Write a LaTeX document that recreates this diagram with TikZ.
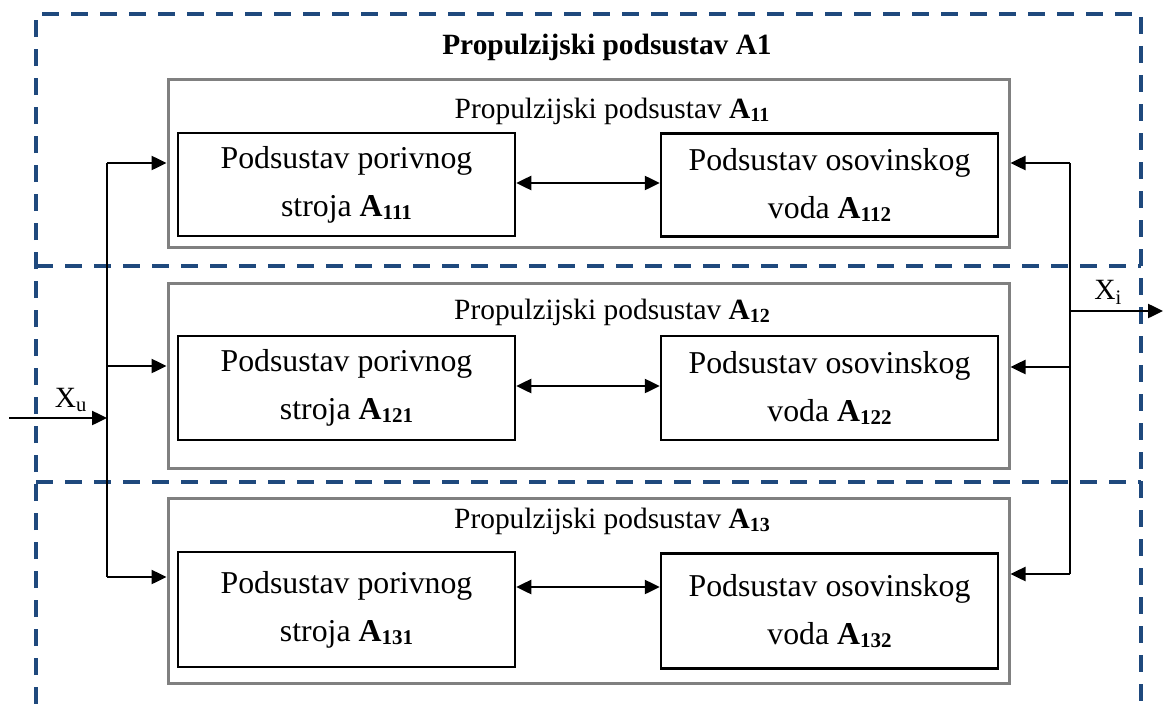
\documentclass[tikz,border=0pt]{standalone}
\usepackage{fontspec}
\setmainfont{Liberation Serif}
\usetikzlibrary{arrows.meta}
\definecolor{dblue}{RGB}{31,73,125}
\definecolor{gbox}{RGB}{128,128,128}
\newcommand\Ab[2]{\textbf{A\raisebox{-0.1em}{\fontsize{#2}{#2}\selectfont #1}}}
\begin{document}
\begin{tikzpicture}[x=1pt,y=-1pt,
  inbox/.style={draw=black,line width=2.5pt,minimum width=337pt,align=center,
    font=\fontsize{31.8}{48}\selectfont,inner sep=0pt},
  outbox/.style={draw=gbox,line width=3pt,minimum width=841pt,inner sep=0pt},
  frame/.style={draw=dblue,line width=4pt,dash pattern=on 17pt off 12pt},
  arr/.style={line width=2.5pt,-{Triangle[length=15pt,width=14pt]}},
  darr/.style={line width=2.5pt,{Triangle[length=15pt,width=14pt]}-{Triangle[length=15pt,width=14pt]}},
  bus/.style={line width=2.5pt},
  title/.style={font=\fontsize{29.4}{29.4}\selectfont,inner sep=0pt},
]
\useasboundingbox (0,0) rectangle (1163,704);

% outer dashed frame
\draw[frame] (36,704) -- (36,14) -- (1141,14) -- (1141,704);
\draw[frame] (36,266) -- (1141,266);
\draw[frame] (36,482) -- (1141,482);

\node[title,font=\fontsize{29.4}{29.4}\selectfont\bfseries] (main) at (607,47) {Propulzijski podsustav A1};

% gray boxes
\node[outbox,minimum height=168pt] (g1) at (588.5,163) {};
\node[outbox,minimum height=185pt] (g2) at (588.5,375.5) {};
\node[outbox,minimum height=185pt] (g3) at (588.5,590.5) {};

\node[title] (t1) at (612,111) {Propulzijski podsustav \Ab{11}{20}};
\node[title] (t2) at (612,312) {Propulzijski podsustav \Ab{12}{20}};
\node[title] (t3) at (612,521) {Propulzijski podsustav \Ab{13}{20}};

% inner boxes
\node[inbox,minimum height=103pt] (l1) at (346.5,184.5) {Podsustav porivnog\\stroja \Ab{111}{21}};
\node[inbox,minimum height=103pt] (r1) at (829.5,185) {Podsustav osovinskog\\voda \Ab{112}{21}};
\node[inbox,minimum height=104pt] (l2) at (346.5,388) {Podsustav porivnog\\stroja \Ab{121}{21}};
\node[inbox,minimum height=104pt] (r2) at (829.5,388) {Podsustav osovinskog\\voda \Ab{122}{21}};
\node[inbox,minimum height=115pt] (l3) at (346.5,609.5) {Podsustav porivnog\\stroja \Ab{131}{21}};
\node[inbox,minimum height=115pt] (r3) at (829.5,611) {Podsustav osovinskog\\voda \Ab{132}{21}};

% double arrows
\coordinate (d1) at (515,183);
\coordinate (d2) at (515,386);
\coordinate (d3) at (515,587);
\draw[darr] (d1 -| l1.east) -- (d1 -| r1.west);
\draw[darr] (d2 -| l2.east) -- (d2 -| r2.west);
\draw[darr] (d3 -| l3.east) -- (d3 -| r3.west);

% left bus
\coordinate (bl1) at (107,163);
\coordinate (bl2) at (107,366);
\coordinate (bl3) at (107,577);
\coordinate (xu) at (107,418);
\coordinate (xus) at (9,418);
\draw[bus] (bl1) -- (bl3);
\draw[arr] (bl1) -- (bl1 -| g1.west);
\draw[arr] (bl2) -- (bl2 -| g2.west);
\draw[arr] (bl3) -- (bl3 -| g3.west);
\draw[arr] (xus) -- (xu);
\node[title] (xul) at (71,400) {X\textsubscript{u}};

% right bus
\coordinate (br1) at (1070,163);
\coordinate (br2) at (1070,367);
\coordinate (br3) at (1070,574);
\coordinate (xi) at (1070,311);
\coordinate (xie) at (1163,311);
\draw[bus] (br1) -- (br3);
\draw[arr] (br1) -- (br1 -| g1.east);
\draw[arr] (br2) -- (br2 -| g2.east);
\draw[arr] (br3) -- (br3 -| g3.east);
\draw[arr] (xi) -- (xie);
\node[title] (xil) at (1108,292) {X\textsubscript{i}};
\end{tikzpicture}
\end{document}
